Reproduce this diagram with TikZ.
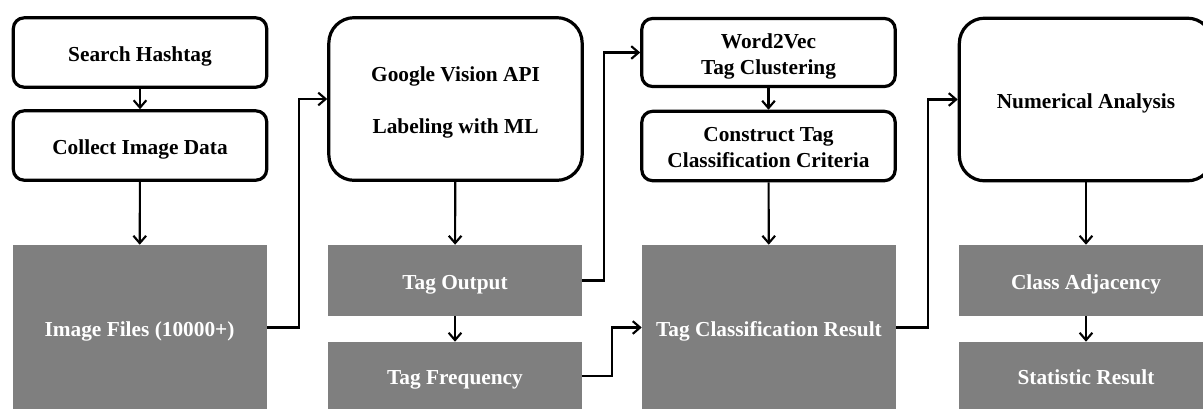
\documentclass[tikz,border=0pt]{standalone}
\usepackage{fontspec}
\setmainfont{Liberation Serif}
\usetikzlibrary{arrows.meta}
\definecolor{boxgray}{HTML}{7F7F7F}
\newcommand{\twolines}[1]{\raisebox{-2.6pt}[\height][\depth]{\begin{tabular}{@{}c@{}}#1\end{tabular}}}
\tikzset{
  boxtext/.style={font=\bfseries\fontsize{16}{19.5}\selectfont,
    execute at begin node={\rule{0pt}{17pt}},
    execute at end node={\rule[-4pt]{0pt}{4pt}}},
  procbox/.style={boxtext, draw=black, line width=2.4pt, rounded corners=8pt, fill=white,
    minimum width=190pt, minimum height=52pt, inner sep=0pt},
  bigbox/.style={procbox, rounded corners=19pt},
  databox/.style={boxtext, fill=boxgray, text=white, inner sep=0pt,
    minimum width=190.5pt},
  conn/.style={draw=black, line width=1.6pt, -{Straight Barb[length=5.5pt,width=9.5pt,line width=1.6pt]}}
}
\begin{document}
\begin{tikzpicture}[x=0.75pt,y=-0.75pt]
\useasboundingbox (0,0) rectangle (1203,408);
\clip (0,0) rectangle (1203,408);
% column 1
\node[procbox] (search) at (140,52.5) {Search Hashtag};
\node[procbox] (collect) at (140,145.5) {Collect Image Data};
\node[databox, minimum height=123.75pt] (img) at (139.5,327.5) {Image Files (10000+)};
% column 2
\node[bigbox, minimum height=122pt] (google) at (455.5,99) {\twolines{Google Vision API\\[19.1pt]Labeling with ML}};
\node[databox, minimum height=53.25pt] (tagout) at (455,280.5) {Tag Output};
\node[databox, minimum height=51pt] (tagfreq) at (455,376) {Tag Frequency};
% column 3
\node[procbox, minimum height=51pt] (w2v) at (768.5,52.5) {\twolines{Word2Vec\\Tag Clustering}};
\node[procbox] (construct) at (768.5,146) {\twolines{Construct Tag\\Classification Criteria}};
\node[databox, minimum height=123.75pt] (tcr) at (769,327.5) {Tag Classification Result};
% column 4
\node[bigbox, minimum height=122pt] (num) at (1086,99.5) {Numerical Analysis};
\node[databox, minimum height=53.25pt] (adj) at (1086,280.5) {Class Adjacency};
\node[databox, minimum height=51pt] (stat) at (1086,376) {Statistic Result};
% connectors
\draw[conn] (search) -- (collect);
\draw[conn] (collect) -- (img);
\draw[conn] (img.east) -- ++(32,0) |- (google.west);
\draw[conn] (google) -- (tagout);
\draw[conn] (tagout.east) -- ++(22,0) |- (w2v.west);
\draw[conn] (tagout) -- (tagfreq);
\draw[conn] (tagfreq.east) -- ++(30,0) |- (tcr.west);
\draw[conn] (w2v) -- (construct);
\draw[conn] (construct) -- (tcr);
\draw[conn] (tcr.east) -- ++(32,0) |- (num.west);
\draw[conn] (num) -- (adj);
\draw[conn] (adj) -- (stat);
\end{tikzpicture}
\end{document}
